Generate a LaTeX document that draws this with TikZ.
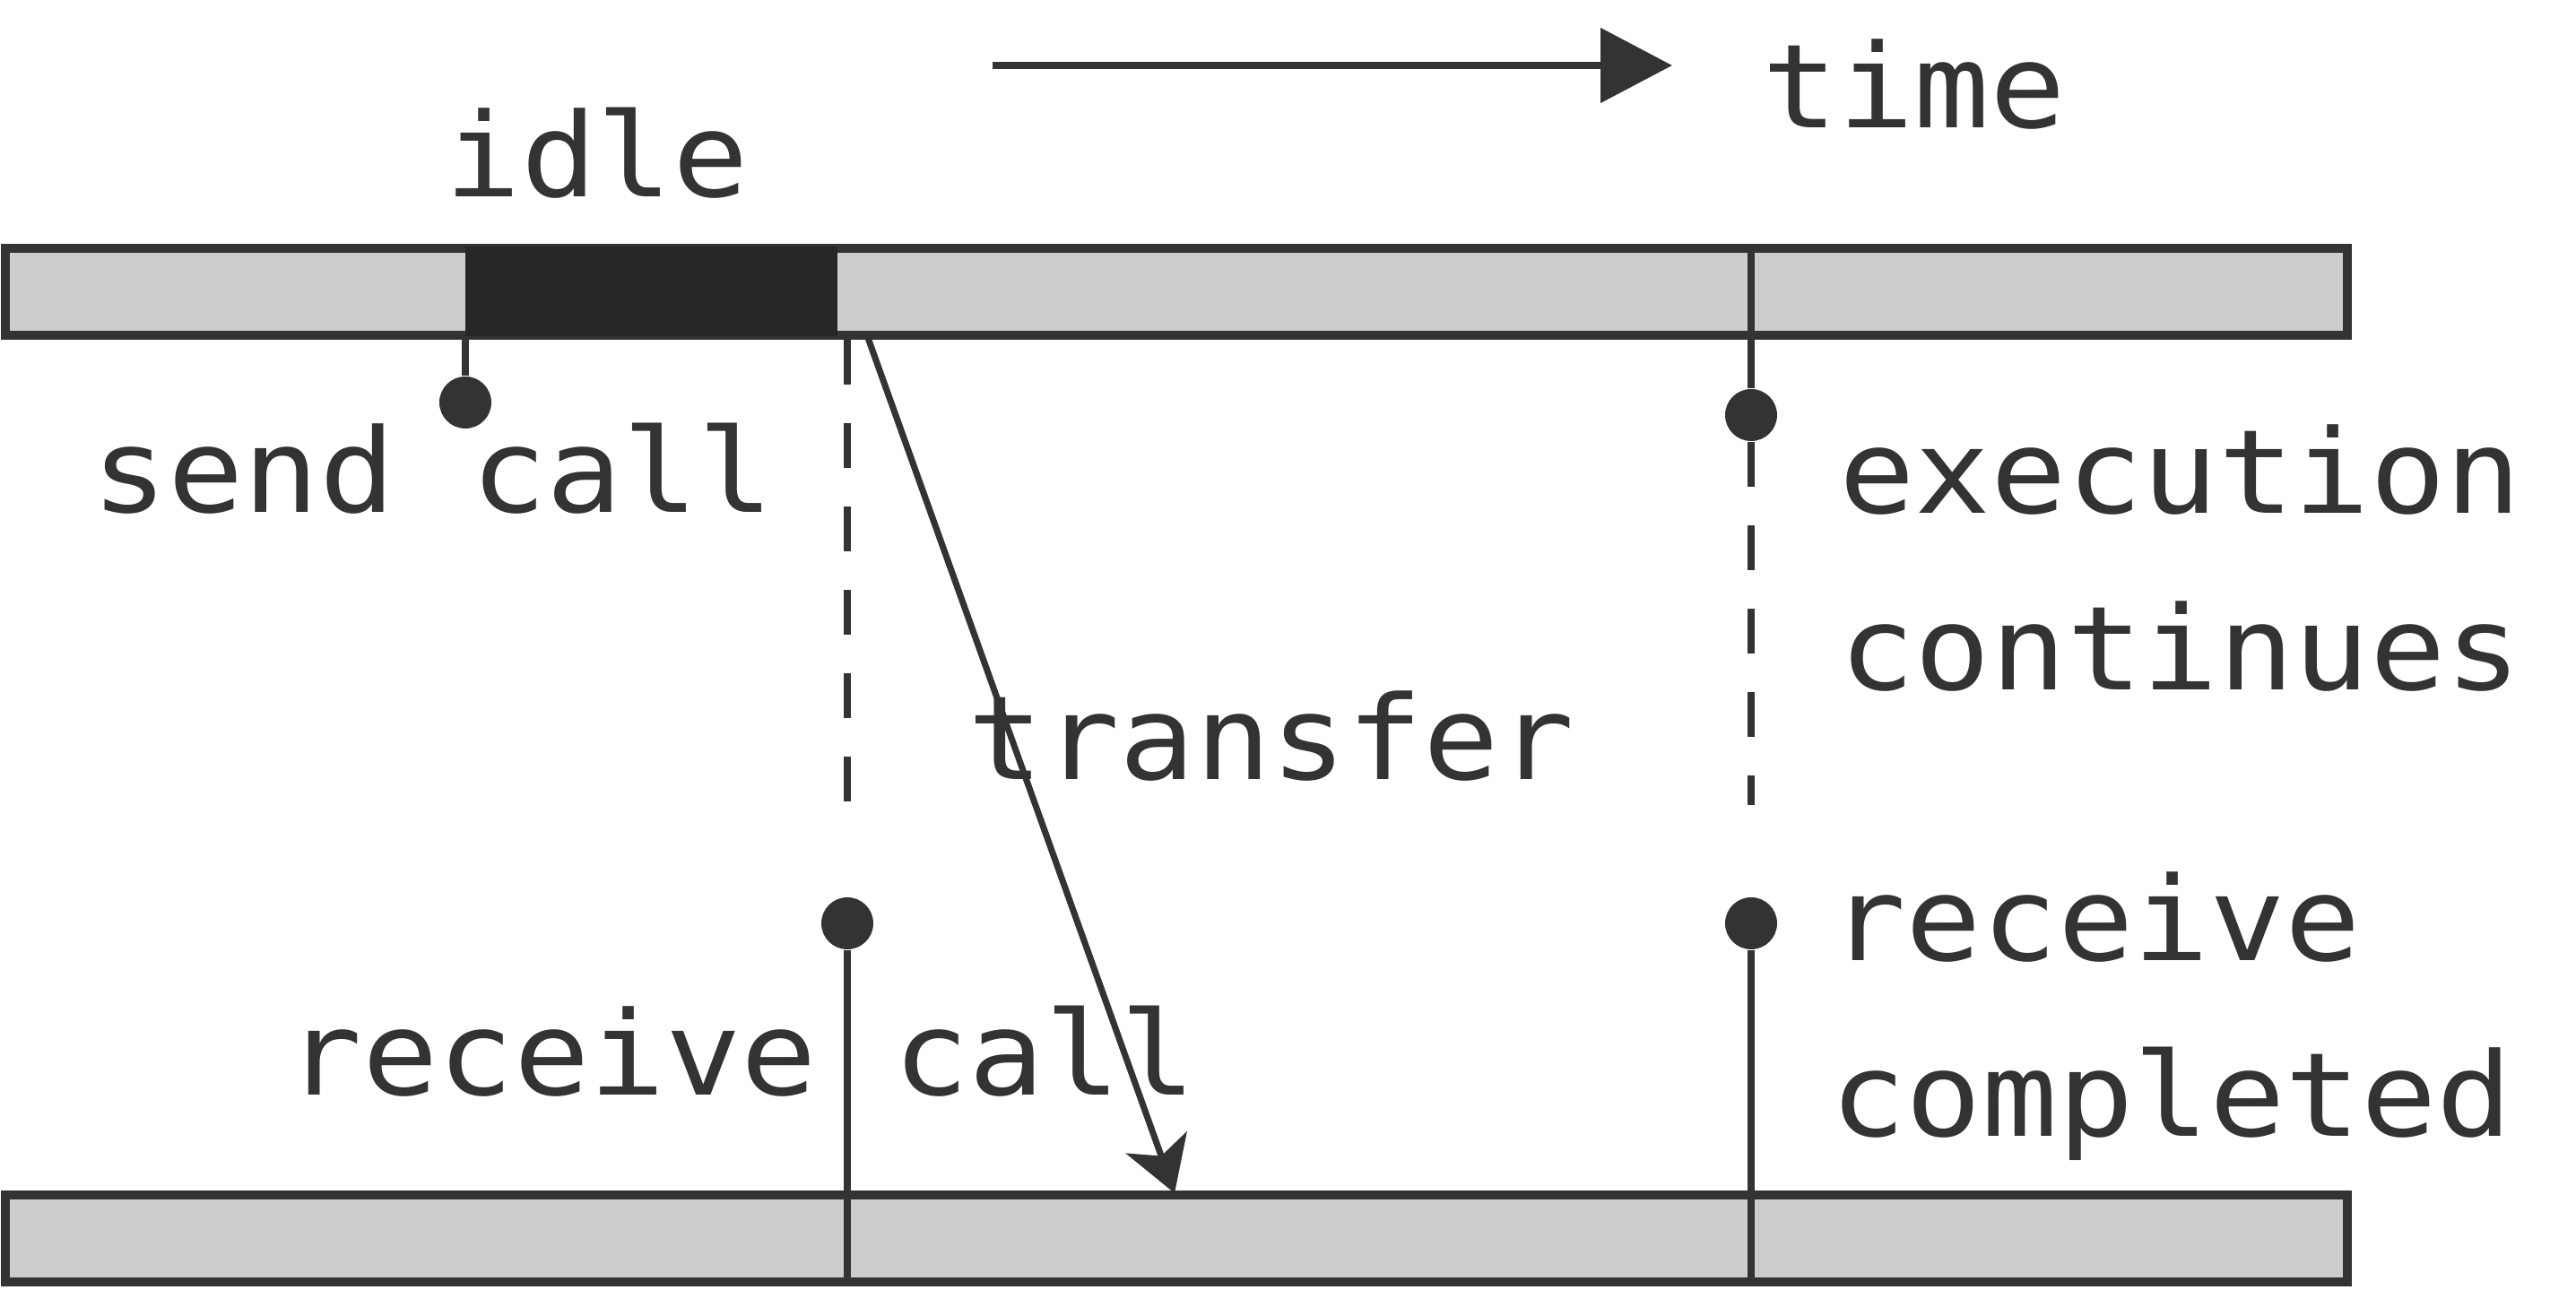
\documentclass[tikz,border=0pt]{standalone}
\usepackage{fontspec}
\setmonofont[FakeStretch=1.08]{DejaVu Sans Mono}
\usetikzlibrary{arrows.meta,positioning}
\definecolor{ink}{HTML}{333333}
\definecolor{barfill}{HTML}{CCCCCC}
\definecolor{idlefill}{HTML}{262626}

\begin{document}
\begin{tikzpicture}[
            lbl/.style={inner sep=0pt, text=ink, font=\ttfamily\fontsize{18.5}{26}\selectfont},
            track/.style={draw=ink, fill=barfill, line width=1.5pt, minimum width=13.06cm, minimum height=0.485cm, inner sep=0pt},
            event/.style={circle, fill=ink, minimum size=0.29cm, inner sep=0pt},
            vline/.style={draw=ink, line width=1.2pt},
            wait/.style={draw=ink, line width=1.2pt, dash pattern=on 0.25cm off 0.215cm}
        ]
            \useasboundingbox (0,0) rectangle (14.365,-7.195);

            \node[track] (sender) at (6.56,-1.6275) {};
            \node[track] (receiver) at (6.56,-6.9075) {};
            \node[fill=idlefill, minimum width=2.075cm, minimum height=0.5cm, inner sep=0pt] (idleblk) at (3.6325,-1.6275) {};

            \node[event] (sendpt) at (2.595,-2.245) {};
            \node[event] (recvpt) at (4.725,-5.15) {};
            \node[event] (contpt) at (9.765,-2.315) {};
            \node[event] (donept) at (9.765,-5.15) {};

            \coordinate (recvwait) at (4.725,-4.49);
            \coordinate (contwait) at (9.765,-4.49);
            \coordinate (conttop) at (9.765,-1.41);
            \coordinate (xferstart) at (4.835,-1.87);
            \coordinate (xferend) at (6.55,-6.655);
            \coordinate (timestart) at (5.535,-0.365);
            \coordinate (timeend) at (9.325,-0.365);

            \draw[vline] (sendpt |- sender.south) -- (sendpt);
            \draw[wait] (recvpt |- sender.south) -- (recvwait);
            \draw[vline] (recvpt) -- (recvpt |- receiver.south);
            \draw[vline] (conttop) -- (contpt);
            \draw[wait] (contpt) -- (contwait);
            \draw[vline] (donept) -- (donept |- receiver.south);

            \draw[draw=ink, line width=1pt, -{Stealth[length=0.3cm, width=0.36cm, inset=0.08cm, fill=ink]}] (xferstart) -- (xferend);
            \draw[draw=ink, line width=1.2pt, -{Triangle[length=0.4cm, width=0.41cm, fill=ink]}] (timestart) -- (timeend);

            \node[lbl, anchor=base] (timelbl) at (10.675,-0.715) {time};
            \node[lbl, anchor=base] (idlelbl) at (3.33,-1.1) {idle};
            \node[lbl, anchor=base] (sendlbl) at (2.415,-2.86) {send call};
            \node[lbl, anchor=base] (xferlbl) at (7.09,-4.35) {transfer};
            \node[lbl, anchor=base] (rcvcalllbl) at (4.135,-6.11) {receive call};
            \node[lbl, anchor=base west] (execlbl) at (10.25,-2.865) {execution};
            \node[lbl, anchor=base west] (contlbl) at ([yshift=-0.985cm]execlbl.base west) {continues};
            \node[lbl, anchor=base west] (rcvlbl) at (10.2,-5.36) {receive};
            \node[lbl, anchor=base west] (donelbl) at ([yshift=-0.98cm]rcvlbl.base west) {completed};
        \end{tikzpicture}
\end{document}
